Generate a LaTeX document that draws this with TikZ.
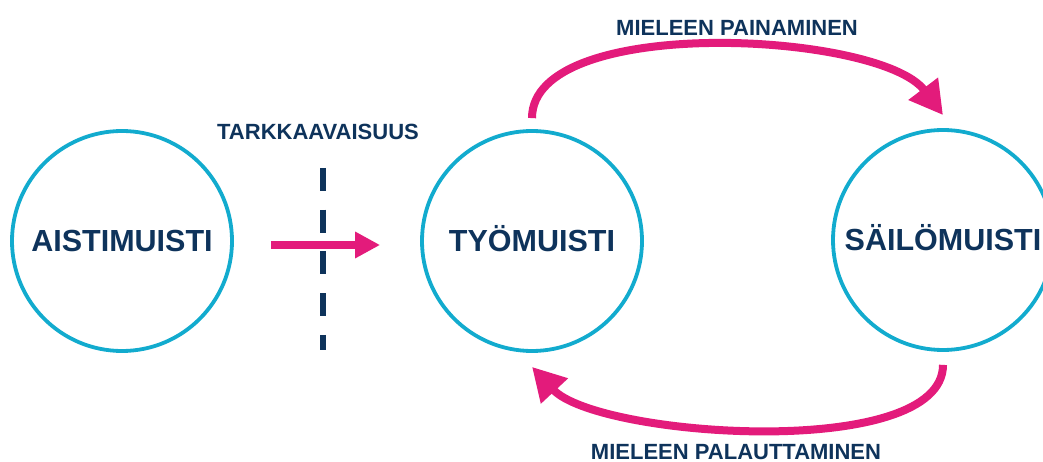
\documentclass[tikz,border=0pt]{standalone}
\usepackage{fontspec}
\setmainfont{Liberation Sans}
\usetikzlibrary{positioning, arrows.meta, calc}
\definecolor{ring}{HTML}{12ABCE}
\definecolor{hot}{HTML}{E31B7B}
\definecolor{navy}{HTML}{0E335B}

\begin{document}
\begin{tikzpicture}[x=1pt,y=1pt,
  mem/.style={draw=ring,line width=3.8pt,circle,minimum size=220pt,inner sep=0pt,
              font=\fontsize{30.5}{30.5}\selectfont\bfseries,text=navy,
              text height=21.8pt,text depth=0pt},
  lbl/.style={font=\fontsize{22}{22}\selectfont\bfseries,text=navy,inner sep=0pt,
              text height=15.7pt,text depth=0pt},
  flow/.style={draw=hot,line width=8pt,-{Triangle[length=33pt,width=35pt]}}]
  \clip (0,0) rectangle (1043,462);
  % the three memory stores
  \node[mem] (aisti) at (122,221) {AISTIMUISTI};
  \node[mem] (tyo) at (532,221) {TYÖMUISTI};
  \node[mem] (saily) at (943,222) {SÄILÖMUISTI};
  % attention gate
  \coordinate (gtop) at (323,294);
  \coordinate (gbot) at (323,112);
  \draw[navy,line width=6pt,dash pattern=on 23pt off 18.7pt] (gtop) -- (gbot);
  \node[lbl] (tark) at (318,330) {TARKKAAVAISUUS};
  \draw[flow,-{Triangle[length=25pt,width=25pt]},shorten <=37pt,shorten >=40pt]
    ([yshift=-4pt]aisti.east) -- ([yshift=-4pt]tyo.west);
  % encoding and retrieval loops
  \draw[flow] ([yshift=11pt]tyo.north) to[out=90,in=127,looseness=0.65] ([yshift=13pt]saily.north);
  \draw[flow] ([yshift=-13pt]saily.south) to[out=-90,in=-47,looseness=0.6] ([yshift=-14pt]tyo.south);
  \node[lbl] (paina) at (737,434.5) {MIELEEN PAINAMINEN};
  \node[lbl] (palau) at (736,10.5) {MIELEEN PALAUTTAMINEN};
\end{tikzpicture}
\end{document}
